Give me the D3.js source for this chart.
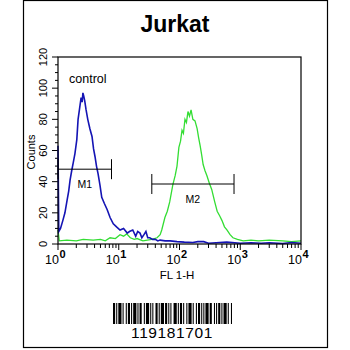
<!DOCTYPE html>
<html>
<head>
<meta charset="utf-8">
<script src="https://cdn.jsdelivr.net/npm/d3@7"></script>
<style>
body { margin: 0; background: #fff; }
svg { display: block; font-family: "Liberation Sans", Arial, sans-serif; }
</style>
</head>
<body>
<script>
// histogramas: canal FL1-H y cuentas
var controlFL = [1.0, 1.03, 1.1, 1.2, 1.3, 1.41, 1.5, 1.58, 1.68, 1.78, 1.9, 2.04, 2.14, 2.25, 2.4, 2.5, 2.57, 2.65, 2.75, 2.9, 3.09, 3.35, 3.63, 3.85, 4.07, 4.3, 4.57, 4.9, 5.25, 5.8, 6.46, 7.2, 8.13, 9.2, 10.5, 12, 13.8, 15, 17, 19, 20.5, 22.4, 24, 26, 28, 30, 32.4, 36, 40, 44, 47.9, 58, 70, 91, 120, 166, 200, 250, 300, 400, 600, 1000, 1500, 2200, 3000, 5000, 7000, 10000]
var controlCounts = [63, 8, 10, 15, 20, 28, 34, 41, 47, 52, 58, 67, 80, 86, 94, 91, 97, 95, 92, 86, 80, 74, 69, 61, 56, 50, 45, 38, 30, 26, 22, 17, 13, 11, 9, 10, 7, 8, 9, 5, 8, 7, 4, 6, 8, 4, 4, 3, 3, 2, 2.5, 2, 2, 1.5, 1.2, 1, 1.5, 1.5, 0.5, 0.8, 1.2, 0.5, 0.8, 0.5, 0.8, 0.3, 1, 0.5]
var sampleFL = [1.0, 1.05, 1.4, 2, 2.6, 3.8, 5, 6, 7.2, 8.8, 10.5, 12, 13.5, 15.5, 18, 20, 25, 29.5, 35, 42.7, 48, 51, 57.5, 63, 69, 77.6, 85, 91, 97.7, 104, 110, 116, 123, 130, 138, 146, 155, 166, 180, 195, 207, 219, 232, 245, 263, 282, 310, 339, 380, 417, 460, 501, 550, 603, 680, 759, 900, 1120, 1500, 2000, 3000, 5000, 7000, 10000]
var sampleCounts = [9, 2, 2.5, 2, 3, 2.5, 3, 2, 4, 3.5, 6, 5, 6.5, 4, 3, 3.5, 2, 2.5, 3, 4, 6, 9, 17, 21, 27, 38, 44, 50, 62, 66, 73, 71, 80, 78, 85, 82, 86, 80, 79, 74, 68, 63, 57, 51, 47, 44, 39, 35, 27, 21, 18, 15, 11, 9, 6, 4, 3, 2, 2.5, 2, 2.5, 2, 1.5, 2]

var yTicks = [0, 20, 40, 60, 80, 100, 120]
var xTicks = [1, 10, 100, 1000, 10000]
var markers = [{name: "M1", from: 1, to: 7.6, y: 48}, {name: "M2", from: 35, to: 790, y: 38.5}]
var barcodeText = "119181701"
// anchos de barras / espacios del codigo de barras
var barcodeWidths = [2,1,1,1,3,1,1,2,1,1,2,1,1,1,3,1,1,1,2,2,1,1,3,1,1,1,1,2,2,1,1,1,3,1,2,1,1,1,1,2,3,1,1,1,2,1,1,2,1,1,3,1,1,2,1,1,2,1,1,1,1,1,3,1,2,2,1,1,1,1,2,1,1,1,3,1,1,2,1]

var W = 350, H = 350
var plot = {left: 58, right: 301, top: 57, bottom: 244}

var svg = d3.select("body").append("svg").attr("width", W).attr("height", H)

// marco exterior
svg.append("rect").attr("x", 23.5).attr("y", 0.5).attr("width", 304).attr("height", 347)
	.attr("fill", "none").attr("stroke", "#000").attr("stroke-width", 1.2)

svg.append("text").attr("x", 175).attr("y", 32).attr("text-anchor", "middle")
	.attr("font-size", 23).attr("font-weight", "bold").text("Jurkat")

var x = d3.scaleLog().domain([1, 10000]).range([plot.left, plot.right])
var y = d3.scaleLinear().domain([0, 120]).range([plot.bottom, plot.top])

// eje y
var yMinor = d3.range(0, 121, 5)
svg.selectAll(".ymin").data(yMinor).enter().append("line")
	.attr("x1", plot.left).attr("x2", function(d) { return d % 20 == 0 ? plot.left - 6 : plot.left - 3 })
	.attr("y1", function(d) { return y(d) }).attr("y2", function(d) { return y(d) })
	.attr("stroke", "#000").attr("stroke-width", 1)
svg.selectAll(".ylab").data(yTicks).enter().append("text")
	.attr("transform", function(d) { return "translate(47," + y(d) + ") rotate(-90)" })
	.attr("text-anchor", "middle").attr("font-size", 11).text(function(d) { return d })
svg.append("text").attr("transform", "translate(35,152) rotate(-90)")
	.attr("text-anchor", "middle").attr("font-size", 11).text("Counts")

// eje x
var xMinor = []
for (var e = 0; e < 4; e++) for (var k = 1; k <= 9; k++) xMinor.push(k * Math.pow(10, e))
xMinor.push(10000)
svg.selectAll(".xmin").data(xMinor).enter().append("line")
	.attr("x1", function(d) { return x(d) }).attr("x2", function(d) { return x(d) })
	.attr("y1", plot.bottom).attr("y2", function(d) { return xTicks.indexOf(d) >= 0 ? plot.bottom + 6 : plot.bottom + 4 })
	.attr("stroke", "#000").attr("stroke-width", 1)
svg.selectAll(".xlab").data(xTicks).enter().append("text")
	.attr("x", function(d) { return x(d) + 1 }).attr("y", 264)
	.attr("text-anchor", "end").attr("font-size", 12.5).text("10")
svg.selectAll(".xsup").data(xTicks).enter().append("text")
	.attr("x", function(d) { return x(d) + 1.5 }).attr("y", 258)
	.attr("font-size", 11).attr("font-weight", "bold").text(function(d, i) { return i })
svg.append("text").attr("x", 177).attr("y", 279).attr("text-anchor", "middle")
	.attr("font-size", 11.5).text("FL 1-H")

// curvas
var line = function(xs) {
	return d3.line().x(function(d, i) { return x(xs[i]) }).y(function(d) { return y(d) })
}
svg.append("path").attr("d", line(sampleFL)(sampleCounts))
	.attr("fill", "none").attr("stroke", "#33dd33").attr("stroke-width", 1.3)
svg.append("path").attr("d", line(controlFL)(controlCounts))
	.attr("fill", "none").attr("stroke", "#1414b4").attr("stroke-width", 1.6)

// marco del grafico
svg.append("rect").attr("x", plot.left).attr("y", plot.top)
	.attr("width", plot.right - plot.left).attr("height", plot.bottom - plot.top)
	.attr("fill", "none").attr("stroke", "#000").attr("stroke-width", 1.2)

svg.append("text").attr("x", 69).attr("y", 83).attr("font-size", 12.5).text("control")

// marcadores M1, M2
markers.forEach(function(m) {
	var g = svg.append("g")
	var yy = y(m.y)
	g.append("line").attr("x1", x(m.from)).attr("x2", x(m.to)).attr("y1", yy).attr("y2", yy)
		.attr("stroke", "#000")
	;[m.from, m.to].forEach(function(v) {
		g.append("line").attr("x1", x(v)).attr("x2", x(v)).attr("y1", yy - 10).attr("y2", yy + 10)
			.attr("stroke", "#000")
	})
	g.append("text").attr("x", (x(m.from) + x(m.to)) / 2).attr("y", yy + 19)
		.attr("text-anchor", "middle").attr("font-size", 10.5).text(m.name)
})

// codigo de barras
var bx = 113, isBar = true
var total = d3.sum(barcodeWidths)
var scaleW = 119 / total
barcodeWidths.forEach(function(w) {
	if (isBar) svg.append("rect").attr("x", bx).attr("y", 303).attr("width", w * scaleW).attr("height", 21).attr("fill", "#000")
	bx += w * scaleW
	isBar = !isBar
})
svg.append("text").attr("x", 172).attr("y", 338).attr("text-anchor", "middle")
	.attr("font-size", 15.5).attr("letter-spacing", 0.6).text(barcodeText)
</script>
</body>
</html>
